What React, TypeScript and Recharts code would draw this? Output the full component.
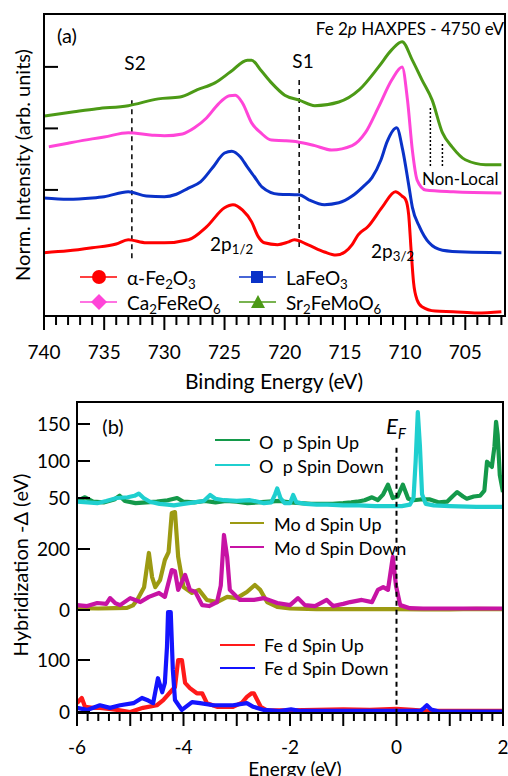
import { LineChart, Line, XAxis, YAxis, ReferenceLine } from 'recharts';

const FONT = 'Lato, "Open Sans", sans-serif';

// ---------- (a) Fe 2p HAXPES: [binding energy (eV), normalized intensity + offset] ----------
const fe2o3: [number, number][] = [
  [740, 0.98], [738, 1.01], [736, 1.06], [734, 1.12], [733, 1.19], [731.5, 1.14], [730, 1.14], [728, 1.19],
  [726.5, 1.4], [725, 1.71], [724.3, 1.76], [723.5, 1.67], [722.75, 1.48], [722.2, 1.24], [721.7, 1.14],
  [720.6, 1.11], [719.75, 1.15], [719.2, 1.19], [718.1, 1.11], [716.7, 0.99], [715.75, 0.94], [715, 0.99],
  [714.4, 1.11], [713.9, 1.27], [713.1, 1.4], [711.9, 1.72], [710.8, 1.97], [710.25, 1.9], [709.95, 1.84],
  [709.7, 1.59], [709.5, 1.02], [709.3, 0.5], [709.0, 0.21], [708.6, 0.1], [707.5, 0.03], [706, 0.02],
  [704, 0.0], [702, 0.02],
];
const lafeo3: [number, number][] = [
  [740, 1.87], [738, 1.85], [736, 1.87], [735, 1.89], [733, 1.97], [731.5, 1.9], [730, 1.89], [729, 1.93],
  [728, 2.03], [727, 2.13], [726, 2.36], [725, 2.6], [724.4, 2.63], [723.7, 2.54], [723.1, 2.37], [722.5, 2.21],
  [721.9, 2.05], [720.5, 1.93], [718.8, 1.92], [718, 1.84], [716.7, 1.76], [715.5, 1.79], [714.4, 1.9],
  [713.5, 2.05], [712.75, 2.2], [712, 2.49], [711.5, 2.78], [710.7, 3.01], [710.2, 2.65], [709.7, 2.08],
  [709.4, 1.72], [708.8, 1.4], [708.0, 1.14], [706.9, 1.02], [705, 0.99], [702, 0.98],
];
const ca2fereo6: [number, number][] = [
  [739.6, 2.7], [738, 2.76], [736, 2.83], [735, 2.86], [733, 2.93], [731, 2.89], [730, 2.88], [728.5, 2.91],
  [727.5, 3.01], [726.5, 3.17], [725.5, 3.4], [724.6, 3.53], [724.1, 3.54], [723.5, 3.41], [722.75, 3.09],
  [722, 2.93], [721.1, 2.81], [720, 2.8], [718.9, 2.78], [717.5, 2.72], [716.1, 2.65], [714.4, 2.72],
  [713.3, 2.93], [712.2, 3.35], [711.1, 3.79], [710.25, 4.0], [709.8, 3.46], [709.4, 2.65], [709.0, 2.16],
  [708.3, 2.0], [706, 1.97], [702, 1.95],
];
const sr2femoo6: [number, number][] = [
  [740, 3.2], [737.5, 3.27], [735.6, 3.32], [733, 3.37], [730.5, 3.48], [728.7, 3.51], [727.25, 3.63],
  [725.8, 3.74], [724.5, 3.92], [723.1, 4.11], [722.75, 4.11], [722, 3.95], [721.1, 3.74], [720, 3.54],
  [718.8, 3.46], [717.5, 3.37], [715.5, 3.43], [713.8, 3.63], [712.2, 4.0], [711.1, 4.28], [710.25, 4.41],
  [709.4, 4.11], [708.6, 3.79], [707.75, 3.46], [706.9, 2.93], [706.1, 2.7], [705, 2.49], [703.3, 2.41], [702, 2.41],
];

const beTicks = [702, 703, 704, 705, 706, 707, 708, 709, 710, 711, 712, 713, 714, 715, 716, 717, 718, 719, 720,
  721, 722, 723, 724, 725, 726, 727, 728, 729, 730, 731, 732, 733, 734, 735, 736, 737, 738, 739, 740];
const beLabels = [705, 710, 715, 720, 725, 730, 735, 740];
const intensityTicks = [2, 3, 4];

// ---------- (b) hybridization functions: [energy (eV), -Δ (eV)] ----------
const oUp: [number, number][] = [
  [-6, 46], [-5.85, 51], [-5.7, 45], [-5.5, 44], [-5.3, 48], [-5.2, 53], [-5.1, 46], [-4.9, 43], [-4.7, 44],
  [-4.5, 45], [-4.3, 47], [-4.12, 50], [-4.0, 45], [-3.8, 44], [-3.6, 46], [-3.4, 44], [-3.2, 46], [-3.0, 45],
  [-2.8, 43], [-2.6, 44], [-2.4, 45], [-2.2, 46], [-2.0, 44], [-1.8, 43], [-1.6, 42], [-1.4, 42], [-1.2, 42],
  [-1.0, 43], [-0.85, 44], [-0.74, 45], [-0.6, 47], [-0.46, 51], [-0.35, 47], [-0.25, 55], [-0.16, 68],
  [-0.07, 50], [0.02, 52], [0.12, 68], [0.22, 49], [0.32, 47], [0.45, 48], [0.63, 48], [0.8, 44], [0.95, 45],
  [1.05, 52], [1.14, 58], [1.25, 52], [1.32, 49], [1.45, 52], [1.57, 53], [1.65, 60], [1.7, 99], [1.75, 95],
  [1.79, 92], [1.84, 120], [1.87, 153], [1.9, 135], [1.94, 81], [2.0, 58],
];
const oDown: [number, number][] = [
  [-6, 45], [-5.8, 44], [-5.62, 43], [-5.45, 46], [-5.25, 50], [-5.05, 51], [-4.92, 53], [-4.84, 56], [-4.75, 50],
  [-4.63, 45], [-4.45, 42], [-4.3, 41], [-4.18, 40], [-4.0, 42], [-3.8, 44], [-3.62, 46], [-3.5, 54], [-3.4, 49],
  [-3.24, 47], [-3.0, 46], [-2.75, 47], [-2.6, 45], [-2.49, 43], [-2.35, 44], [-2.28, 55], [-2.24, 63],
  [-2.18, 50], [-2.1, 43], [-2.0, 43], [-1.94, 54], [-1.88, 44], [-1.7, 42], [-1.5, 41], [-1.3, 41], [-1.0, 40],
  [-0.7, 40], [-0.4, 39], [-0.1, 39], [0.1, 39], [0.25, 41], [0.32, 50], [0.36, 100], [0.4, 166], [0.44, 120],
  [0.48, 55], [0.55, 42], [0.7, 40], [1.0, 39], [1.5, 38], [2.0, 38],
];
const moUp: [number, number][] = [
  [-6, 6], [-5.6, 5], [-5.3, 6], [-5.06, 7], [-4.95, 15], [-4.87, 33], [-4.74, 75], [-4.65, 187], [-4.59, 108],
  [-4.53, 75], [-4.44, 98], [-4.35, 164], [-4.28, 190], [-4.22, 318], [-4.16, 321], [-4.1, 174], [-4.0, 75],
  [-3.84, 56], [-3.71, 66], [-3.56, 33], [-3.37, 26], [-3.18, 43], [-3.0, 39], [-2.81, 59], [-2.66, 82],
  [-2.56, 66], [-2.43, 26], [-2.24, 10], [-2.0, 5], [-1.5, 3], [-1.0, 3], [-0.5, 3], [0, 3], [0.5, 2],
  [1.0, 2], [1.5, 4], [2.0, 3],
];
const moDown: [number, number][] = [
  [-6, 16], [-5.81, 13], [-5.62, 23], [-5.45, 20], [-5.38, 39], [-5.28, 22], [-5.19, 16], [-5.0, 39], [-4.81, 26],
  [-4.65, 43], [-4.46, 56], [-4.35, 43], [-4.22, 131], [-4.16, 127], [-4.1, 66], [-3.97, 115], [-3.88, 66],
  [-3.78, 60], [-3.65, 16], [-3.52, 13], [-3.37, 26], [-3.3, 80], [-3.24, 246], [-3.18, 174], [-3.13, 66],
  [-2.94, 33], [-2.68, 33], [-2.49, 39], [-2.24, 23], [-2.0, 16], [-1.85, 39], [-1.72, 16], [-1.53, 13],
  [-1.31, 33], [-1.19, 13], [-1.0, 20], [-0.87, 26], [-0.65, 33], [-0.46, 26], [-0.35, 66], [-0.25, 75],
  [-0.16, 66], [-0.07, 174], [-0.01, 80], [0.07, 16], [0.25, 6], [0.5, 5], [1.0, 5], [1.5, 5], [2.0, 5],
];
const feUp: [number, number][] = [
  [-6, 17], [-5.91, 27], [-5.85, 10], [-5.7, 8], [-5.57, 8], [-5.4, 6], [-5.25, 4], [-5.0, 0], [-4.76, 8],
  [-4.5, 13], [-4.38, 23], [-4.25, 38], [-4.16, 48], [-4.1, 100], [-4.03, 100], [-3.97, 56], [-3.88, 46],
  [-3.75, 36], [-3.65, 36], [-3.56, 17], [-3.37, 10], [-3.07, 10], [-2.9, 18], [-2.81, 29], [-2.72, 36],
  [-2.68, 36], [-2.55, 10], [-2.43, 3], [-2.0, 3], [-1.5, 4], [-1.0, 5], [-0.5, 4], [0, 6], [0.3, 4],
  [0.6, 2], [1.0, 2], [1.5, 2], [2.0, 2],
];
const feDown: [number, number][] = [
  [-6, 8], [-5.81, 4], [-5.57, 13], [-5.38, 8], [-5.19, 13], [-4.94, 17], [-4.78, 27], [-4.66, 22], [-4.57, 17],
  [-4.48, 65], [-4.4, 38], [-4.35, 56], [-4.31, 125], [-4.29, 192], [-4.24, 192], [-4.2, 81], [-4.16, 23],
  [-4.03, 4], [-3.84, 19], [-3.69, 17], [-3.44, 13], [-3.07, 13], [-2.81, 17], [-2.69, 10], [-2.49, 4],
  [-2.2, 2], [-1.98, 5], [-1.8, 2], [-1.0, 2], [0, 2], [0.45, 2], [0.52, 8], [0.57, 13], [0.65, 5], [0.8, 1],
  [1.2, 1], [2.0, 1],
];

const eTicks = [-6, -5.8, -5.6, -5.4, -5.2, -5, -4.8, -4.6, -4.4, -4.2, -4, -3.8, -3.6, -3.4, -3.2, -3, -2.8,
  -2.6, -2.4, -2.2, -2, -1.8, -1.6, -1.4, -1.2, -1, -0.8, -0.6, -0.4, -0.2, 0, 0.2, 0.4, 0.6, 0.8, 1, 1.2, 1.4,
  1.6, 1.8, 2];
const eLabels = [-6, -4, -2, 0, 2];
const oTicks = [50, 100, 150];
const moTicks = [0, 200];
const feTicks = [0, 100];

const pts = (pairs: [number, number][]) => pairs.map(([x, y]) => ({ x, y }));

// ---------- tick renderers ----------
function BeTick({ x, y, payload }: any) {
  const major = beLabels.includes(payload.value);
  return (
    <g>
      <line x1={x} x2={x} y1={y} y2={y + (major ? 14 : 9)} stroke="#000" strokeWidth={2} />
      {major && (
        <text x={x} y={y + 43} textAnchor="middle" fontSize={19} fontFamily={FONT} fill="#000">
          {payload.value}
        </text>
      )}
    </g>
  );
}

function ETick({ x, y, payload }: any) {
  const v = payload.value;
  const major = Number.isInteger(v);
  return (
    <g>
      <line x1={x} x2={x} y1={y} y2={y + (major ? 13 : 8)} stroke="#000" strokeWidth={2} />
      {eLabels.includes(v) && (
        <text x={x} y={y + 41} textAnchor="middle" fontSize={19} fontFamily={FONT} fill="#000">
          {v}
        </text>
      )}
    </g>
  );
}

function InTick({ x, y }: any) {
  return (
    <g>
      <line x1={x} x2={x + 14} y1={y} y2={y} stroke="#000" strokeWidth={2} />
    </g>
  );
}

function HybTick({ x, y, payload }: any) {
  return (
    <g>
      <line x1={x} x2={x + 13} y1={y} y2={y} stroke="#000" strokeWidth={2} />
      <text x={x - 7} y={y + 7} textAnchor="end" fontSize={19} fontFamily={FONT} fill="#000">
        {payload.value}
      </text>
    </g>
  );
}

// ---------- text helpers ----------
function Note({ x, y, align = 'left', size = 17, rotate = false, children, style }: any) {
  const tx = align === 'center' ? '-50%' : align === 'right' ? '-100%' : '0';
  return (
    <div
      style={{
        position: 'absolute', left: x, top: y, fontSize: size, fontFamily: FONT, lineHeight: 1,
        whiteSpace: 'pre', color: '#000',
        transform: rotate ? 'translate(-50%, -50%) rotate(-90deg)' : `translate(${tx}, -50%)`,
        ...style,
      }}
    >
      {children}
    </div>
  );
}

const Sub = ({ children }: any) => (
  <sub style={{ fontSize: '0.7em', verticalAlign: '-0.3em', lineHeight: 0 }}>{children}</sub>
);

function Key({ x, y, color, shape, children }: any) {
  let marker = null;
  if (shape === 'circle') marker = <circle cx={19} cy={10} r={7} fill={color} />;
  if (shape === 'square') marker = <rect x={12} y={4} width={12} height={12} fill={color} />;
  if (shape === 'diamond') marker = <polygon points="19,2 27,10 19,18 11,10" fill={color} />;
  if (shape === 'triangle') marker = <polygon points="19,3 26,16 12,16" fill={color} />;
  return (
    <div style={{ position: 'absolute', left: x, top: y - 10, height: 20, display: 'flex', alignItems: 'center' }}>
      <svg width={37} height={20}>
        <line x1={0} x2={37} y1={10} y2={10} stroke={color} strokeWidth={1.5} />
        {marker}
      </svg>
      <span style={{ marginLeft: 10, fontSize: 19, fontFamily: FONT, whiteSpace: 'pre' }}>{children}</span>
    </div>
  );
}

function Swatch({ x1, x2, y, color }: any) {
  return <div style={{ position: 'absolute', left: x1, top: y - 1, width: x2 - x1, height: 2, background: color }} />;
}

// ---------- panel (b) layer ----------
const B_MARGIN = { top: 12, right: 5, bottom: 0, left: 0 };

function HybLayer({ domain, ticks, series, showX, children }: any) {
  return (
    <div style={{ position: 'absolute', left: 0, top: 390 }}>
      <LineChart width={508} height={386} margin={B_MARGIN}>
        <XAxis
          type="number" dataKey="x" domain={[-6, 2]} allowDataOverflow ticks={eTicks} interval={0}
          height={63} axisLine={false} tickLine={false} tickSize={0} tickMargin={0}
          tick={showX ? <ETick /> : false}
        />
        <YAxis
          type="number" domain={domain} allowDataOverflow ticks={ticks} interval={0} width={77}
          axisLine={false} tickLine={false} tickSize={0} tickMargin={0} tick={<HybTick />}
        />
        {series.map((s: any) => (
          <Line
            key={s.name} data={pts(s.data)} dataKey="y" type="linear" stroke={s.color} strokeWidth={4.2}
            dot={false} isAnimationActive={false} strokeLinejoin="round"
          />
        ))}
        {children}
      </LineChart>
    </div>
  );
}

export default function App() {
  return (
    <div style={{ position: 'absolute', left: 0, top: 0, width: 508, height: 776, background: '#fff', overflow: 'hidden' }}>
      {/* ---------------- (a) ---------------- */}
      <div style={{ position: 'absolute', left: 0, top: 0 }}>
        <LineChart width={508} height={400} margin={{ top: 14, right: 3, bottom: 0, left: 0 }}>
          <XAxis
            type="number" dataKey="x" domain={[701.7, 740]} reversed allowDataOverflow ticks={beTicks}
            interval={0} height={84} axisLine={false} tickLine={false} tickSize={0} tickMargin={0} tick={<BeTick />}
          />
          <YAxis
            type="number" domain={[-0.05, 4.86]} allowDataOverflow ticks={intensityTicks} interval={0} width={44}
            axisLine={false} tickLine={false} tickSize={0} tickMargin={0} tick={<InTick />}
          />
          <ReferenceLine segment={[{ x: 732.7, y: 0.89 }, { x: 732.7, y: 3.46 }]} stroke="#000" strokeWidth={1.5} strokeDasharray="5 4" />
          <ReferenceLine segment={[{ x: 718.8, y: 1.07 }, { x: 718.8, y: 3.84 }]} stroke="#000" strokeWidth={1.5} strokeDasharray="5 4" />
          <ReferenceLine segment={[{ x: 707.9, y: 2.39 }, { x: 707.9, y: 3.35 }]} stroke="#000" strokeWidth={1.5} strokeDasharray="2 2" />
          <ReferenceLine segment={[{ x: 706.9, y: 2.39 }, { x: 706.9, y: 2.78 }]} stroke="#000" strokeWidth={1.5} strokeDasharray="2 2" />
          <Line data={pts(fe2o3)} dataKey="y" type="monotone" stroke="#ff0000" strokeWidth={3} dot={false} isAnimationActive={false} />
          <Line data={pts(lafeo3)} dataKey="y" type="monotone" stroke="#0a32c8" strokeWidth={3} dot={false} isAnimationActive={false} />
          <Line data={pts(ca2fereo6)} dataKey="y" type="monotone" stroke="#ff45d8" strokeWidth={3} dot={false} isAnimationActive={false} />
          <Line data={pts(sr2femoo6)} dataKey="y" type="monotone" stroke="#4c9a16" strokeWidth={3} dot={false} isAnimationActive={false} />
        </LineChart>
      </div>
      <div style={{ position: 'absolute', left: 43, top: 13, width: 463, height: 304, border: '2px solid #000', boxSizing: 'border-box' }} />

      <Note x={67} y={35} align="center" size={20}>(a)</Note>
      <Note x={504} y={28} align="right" size={17}>Fe 2<i>p</i> HAXPES - 4750 eV</Note>
      <Note x={135} y={62} align="center" size={19}>S2</Note>
      <Note x={303} y={60} align="center" size={19}>S1</Note>
      <Note x={210} y={243} size={19}>2p<Sub>1/2</Sub></Note>
      <Note x={371} y={250} size={19}>2p<Sub>3/2</Sub></Note>
      <Note x={422} y={178} size={17}>Non-Local</Note>
      <Key x={80} y={277} color="#ff0000" shape="circle">α-Fe<Sub>2</Sub>O<Sub>3</Sub></Key>
      <Key x={239} y={277} color="#0a32c8" shape="square">LaFeO<Sub>3</Sub></Key>
      <Key x={80} y={302} color="#ff45d8" shape="diamond">Ca<Sub>2</Sub>FeReO<Sub>6</Sub></Key>
      <Key x={239} y={302} color="#4c9a16" shape="triangle">Sr<Sub>2</Sub>FeMoO<Sub>6</Sub></Key>
      <Note x={274} y={380} align="center" size={21}>Binding Energy (eV)</Note>
      <Note x={22} y={165} rotate size={20}>Norm. Intensity (arb. units)</Note>

      {/* ---------------- (b) ---------------- */}
      <HybLayer
        domain={[-240.5, 179.7]} ticks={oTicks}
        series={[
          { name: 'oUp', data: oUp, color: '#14994a' },
          { name: 'oDown', data: oDown, color: '#1fcfcf' },
        ]}
      />
      <HybLayer
        domain={[-337.7, 682]} ticks={moTicks}
        series={[
          { name: 'moUp', data: moUp, color: '#9c9a12' },
          { name: 'moDown', data: moDown, color: '#c713a4' },
        ]}
      />
      <HybLayer
        domain={[-1.9, 596]} ticks={feTicks} showX
        series={[
          { name: 'feUp', data: feUp, color: '#ff1a1a' },
          { name: 'feDown', data: feDown, color: '#1414ff' },
        ]}
      >
        <ReferenceLine segment={[{ x: 0, y: 508 }, { x: 0, y: -1.9 }]} stroke="#000" strokeWidth={2} strokeDasharray="5 4" />
      </HybLayer>
      <div style={{ position: 'absolute', left: 76, top: 401, width: 428, height: 313, border: '2px solid #000', boxSizing: 'border-box' }} />

      <Note x={113} y={426} align="center" size={20}>(b)</Note>
      <Note x={386} y={426} size={22} style={{ fontStyle: 'italic' }}>E<Sub>F</Sub></Note>
      <Swatch x1={215} x2={250} y={440} color="#14994a" />
      <Note x={259} y={442} size={18}>O  p Spin Up</Note>
      <Swatch x1={215} x2={250} y={465} color="#1fcfcf" />
      <Note x={259} y={466} size={18}>O  p Spin Down</Note>
      <Swatch x1={230} x2={264} y={523} color="#9c9a12" />
      <Note x={274} y={524} size={18}>Mo d Spin Up</Note>
      <Swatch x1={230} x2={264} y={547} color="#c713a4" />
      <Note x={274} y={548} size={18}>Mo d Spin Down</Note>
      <Swatch x1={220} x2={255} y={645} color="#ff1a1a" />
      <Note x={264} y={645} size={18}>Fe d Spin Up</Note>
      <Swatch x1={220} x2={255} y={668} color="#1414ff" />
      <Note x={264} y={668} size={18}>Fe d Spin Down</Note>
      <Note x={295} y={768} align="center" size={19}>Energy (eV)</Note>
      <Note x={20} y={565} rotate size={20}>Hybridization -Δ (eV)</Note>
    </div>
  );
}
